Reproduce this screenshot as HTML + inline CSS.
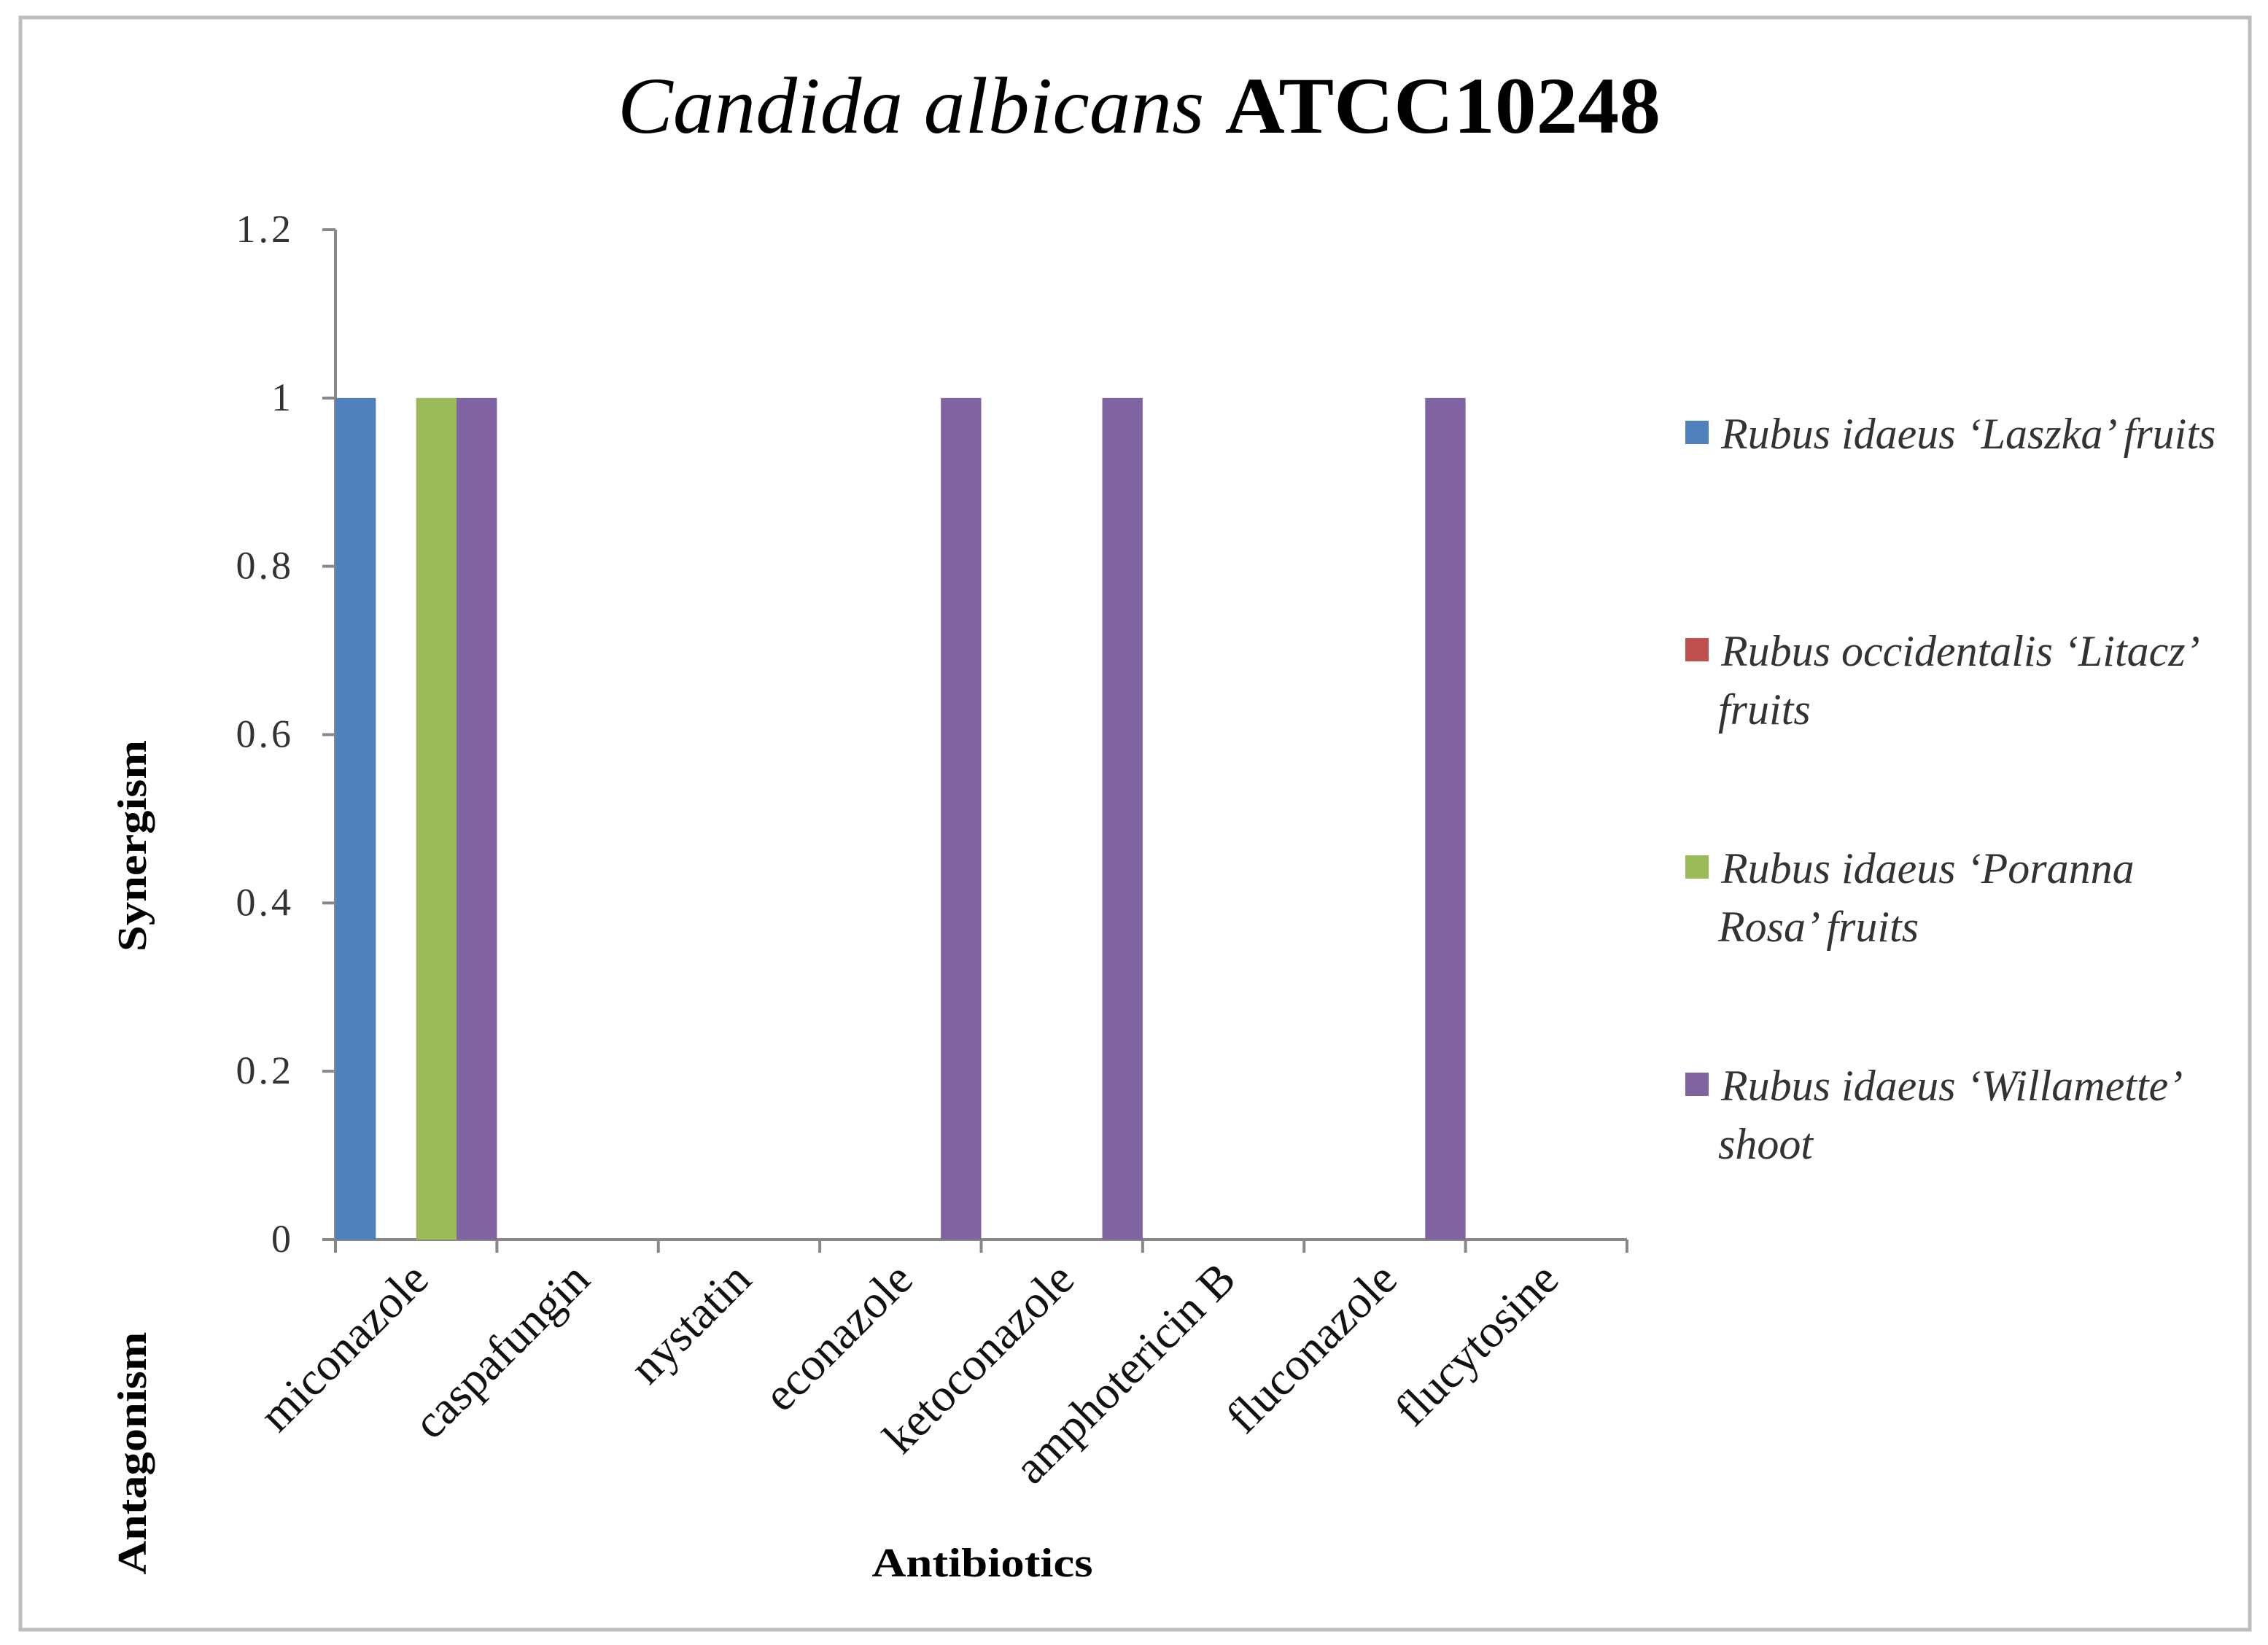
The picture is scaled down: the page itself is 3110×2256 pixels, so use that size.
<!DOCTYPE html>
<html><head><meta charset="utf-8"><style>
html,body{margin:0;padding:0;background:#fff;}
svg{display:block;}
</style></head><body>
<svg id="chart" width="3110" height="2256" viewBox="0 0 3110 2256" xmlns="http://www.w3.org/2000/svg" font-family="'Liberation Serif', serif">
<rect x="28" y="24" width="3057" height="2211" fill="#fff" stroke="#bdbdbd" stroke-width="5"/>
<text x="1562" y="182" text-anchor="middle" font-size="110" fill="#000" textLength="1430" lengthAdjust="spacingAndGlyphs"><tspan font-style="italic">Candida albicans</tspan> <tspan font-weight="bold">ATCC10248</tspan></text>
<g id="axes"></g>
<g id="bars"></g>
<g id="xlabels"></g>
<text transform="translate(200,1160) rotate(-90)" text-anchor="middle" font-size="56" font-weight="bold" fill="#000" textLength="290" lengthAdjust="spacingAndGlyphs">Synergism</text>
<text transform="translate(200,1993) rotate(-90)" text-anchor="middle" font-size="56" font-weight="bold" fill="#000" textLength="333" lengthAdjust="spacingAndGlyphs">Antagonism</text>
<text x="1347" y="2162" text-anchor="middle" font-size="56" font-weight="bold" fill="#000" textLength="303" lengthAdjust="spacingAndGlyphs">Antibiotics</text>
<g id="legend"></g>
</svg>
<script>
const categories = ["miconazole","caspafungin","nystatin","econazole","ketoconazole","amphotericin B","fluconazole","flucytosine"];
const seriesNames = ["Rubus idaeus \u2018Laszka\u2019 fruits","Rubus occidentalis \u2018Litacz\u2019 fruits","Rubus idaeus \u2018Poranna Rosa\u2019  fruits","Rubus idaeus \u2018Willamette\u2019 shoot"];
const laszka = [1,0,0,0,0,0,0,0];
const litacz = [0,0,0,0,0,0,0,0];
const poranna = [1,0,0,0,0,0,0,0];
const willamette = [1,0,0,1,1,0,1,0];
const yTicks = [0,0.2,0.4,0.6,0.8,1,1.2];
const yTickLabels = ["0","0.2","0.4","0.6","0.8","1","1.2"];

const NS="http://www.w3.org/2000/svg";
const colors=["#4F81BD","#C0504D","#9BBB59","#8064A2"];
const series=[laszka,litacz,poranna,willamette];
const x0=460,x1=2231,y0=1700,yTop=315,yMax=1.2;
const catW=(x1-x0)/categories.length;
const barW=catW/4;
function yScale(v){return y0-(v/yMax)*(y0-yTop);}
function xCat(i){return x0+i*catW;}
function mk(tag,attrs,parent){const e=document.createElementNS(NS,tag);for(const k in attrs)e.setAttribute(k,attrs[k]);parent.appendChild(e);return e;}
const axes=document.getElementById('axes');
let yl=mk('line',{x1:x0,y1:yScale(yMax),x2:x0,y2:y0,stroke:'#888','stroke-width':4},axes);


yTicks.forEach((t,i)=>{
  const y=yScale(t);
  const tk=mk('line',{x1:x0-18,y1:y,x2:x0,y2:y,stroke:'#888','stroke-width':4},axes);
  
  
  const tx=mk('text',{x:403,y:y+17,'text-anchor':'end','font-size':54,'letter-spacing':4,fill:'#333'},axes);
  tx.textContent=yTickLabels[i];
  
  
});
const bars=document.getElementById('bars');
series.forEach((s,si)=>{
  s.forEach((v,ci)=>{
    if(v<=0)return;
    const r=mk('rect',{x:xCat(ci)+si*barW,y:yScale(v),width:barW,height:y0-yScale(v),fill:colors[si]},bars);
    
    
  });
});
let xl=mk('line',{x1:x0,y1:y0,x2:x1,y2:y0,stroke:'#888','stroke-width':4},axes);


for(let i=0;i<=categories.length;i++){
  const tk=mk('line',{x1:xCat(i),y1:y0,x2:xCat(i),y2:y0+18,stroke:'#888','stroke-width':4},axes);
  
  
}
const xlab=document.getElementById('xlabels');
categories.forEach((c,i)=>{
  const cx=xCat(i)+catW/2+20, cy=y0+58;
  const t=mk('text',{x:cx,y:cy,'text-anchor':'end','font-size':64,fill:'#111',transform:'rotate(-45 '+cx+' '+cy+')'},xlab);
  t.textContent=c;
  
  
});
const leg=document.getElementById('legend');
const legLines=[["Rubus idaeus \u2018Laszka\u2019 fruits"],["Rubus occidentalis \u2018Litacz\u2019","fruits"],["Rubus idaeus \u2018Poranna","Rosa\u2019  fruits"],["Rubus idaeus \u2018Willamette\u2019","shoot"]];
const legY=[615,913,1211,1509];
legLines.forEach((lines,i)=>{
  const sq=mk('rect',{x:2311,y:legY[i]-38,width:32,height:32,fill:colors[i]},leg);
  
  
  lines.forEach((ln,j)=>{
    const t=mk('text',{x:j==0?2360:2356,y:legY[i]+j*80,'font-size':60,'font-style':'italic',fill:'#333'},leg);
    t.textContent=ln;
    
    
  });
});
</script>
</body></html>
